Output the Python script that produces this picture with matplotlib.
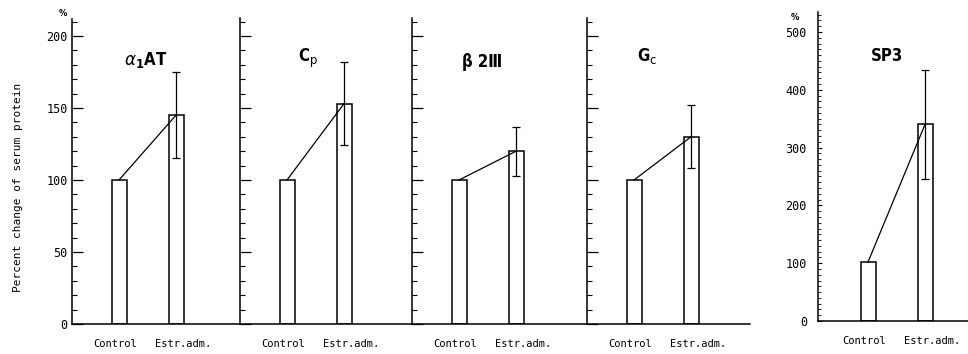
import matplotlib
matplotlib.use("Agg")
import matplotlib.pyplot as plt
import matplotlib.transforms as mtransforms
from matplotlib.ticker import MultipleLocator

# values (percent of control)
proteins = ["α1AT", "Cp", "β2Ⅲ", "Gc", "SP3"]
title_text = [r"$\alpha$$_{\mathbf{1}}$AT", r"C$_{\mathrm{p}}$", "β 2Ⅲ", r"G$_{\mathrm{c}}$", "SP3"]
groups = ["Control", "Estr.adm."]
control = [100, 100, 100, 100, 102]
estr = [145, 153, 120, 130, 340]
estr_err = [30, 29, 17, 22, 94]

W, H = 968, 354
fig = plt.figure(figsize=(W / 100, H / 100), dpi=100)
MONO = "DejaVu Sans Mono"


def px_axes(x0, x1, ybot, ytop):
    return fig.add_axes([x0 / W, (H - ybot) / H, (x1 - x0) / W, (ybot - ytop) / H])


# panel layout in pixels: (left, right, y of zero, top)
layout = [(72, 240, 324, 19), (240, 412, 324, 18), (412, 587, 324, 18),
          (587, 750, 324, 18), (818, 968, 321, 12)]
px_per_unit = [1.44, 1.44, 1.44, 1.44, 0.578]
title_pos = [(146, 60), (308, 58), (482, 62), (647, 56), (887, 56)]
step = 57.0  # px between bar centres
first = 47.0  # px from axis to control bar centre
label_shift = [-4 / 100, 7 / 100]  # inches, labels sit a little apart from bars

for i, name in enumerate(proteins):
    x0, x1, yb, yt = layout[i]
    ax = px_axes(x0, x1, yb, yt)
    w = x1 - x0
    off = first + (3 if i == 4 else 0)
    ax.set_xlim(-off / step, (w - off) / step)
    ax.set_ylim(0, (yb - yt) / px_per_unit[i])

    vals = [control[i], estr[i]]
    ax.bar([0, 1], vals, width=15 / step, color="white", edgecolor="black", linewidth=1.1, zorder=2)
    ax.plot([0, 1], vals, color="black", lw=0.9, zorder=3)
    ax.errorbar([1], [estr[i]], yerr=[estr_err[i]], fmt="none", ecolor="black",
                elinewidth=0.9, capsize=3, capthick=0.9, zorder=4)

    for s in ["top", "right"]:
        ax.spines[s].set_visible(False)
    ax.spines["left"].set_linewidth(1.1)
    ax.spines["bottom"].set_linewidth(1.1)

    ax.set_xticks([0, 1], groups, fontfamily=MONO, fontsize=7.5)
    ax.tick_params(axis="x", length=0, pad=11)
    for lab, dx in zip(ax.get_xticklabels(), label_shift):
        lab.set_transform(lab.get_transform() + mtransforms.ScaledTranslation(dx, 0, fig.dpi_scale_trans))

    if i < 4:
        ax.yaxis.set_major_locator(MultipleLocator(50))
        ax.yaxis.set_minor_locator(MultipleLocator(10))
        ax.tick_params(axis="y", which="major", direction="in", length=8, width=0.9, pad=3)
        ax.tick_params(axis="y", which="minor", direction="in", length=3.5, width=0.8)
        if i > 0:
            ax.tick_params(axis="y", labelleft=False)
    else:
        ax.yaxis.set_major_locator(MultipleLocator(100))
        ax.yaxis.set_minor_locator(MultipleLocator(10))
        ax.tick_params(axis="y", which="major", direction="in", length=3, width=0.8, pad=8)
        ax.tick_params(axis="y", which="minor", direction="in", length=2, width=0.6)
    for lab in ax.get_yticklabels():
        lab.set_fontfamily(MONO)
        lab.set_fontsize(8.5)

    tx, ty = title_pos[i]
    fig.text(tx / W, 1 - ty / H, title_text[i], ha="center", va="center",
             fontsize=12, fontweight="bold", fontstretch="condensed")

fig.text(63 / W, 1 - 14 / H, "%", ha="center", va="center", fontsize=6, fontweight="bold")
fig.text(795 / W, 1 - 17 / H, "%", ha="center", va="center", fontsize=6, fontweight="bold")
fig.text(18 / W, 1 - 187 / H, "Percent change of serum protein", rotation=90,
         ha="center", va="center", fontfamily=MONO, fontsize=8)

fig.savefig("out.png", dpi=100, facecolor="white")
